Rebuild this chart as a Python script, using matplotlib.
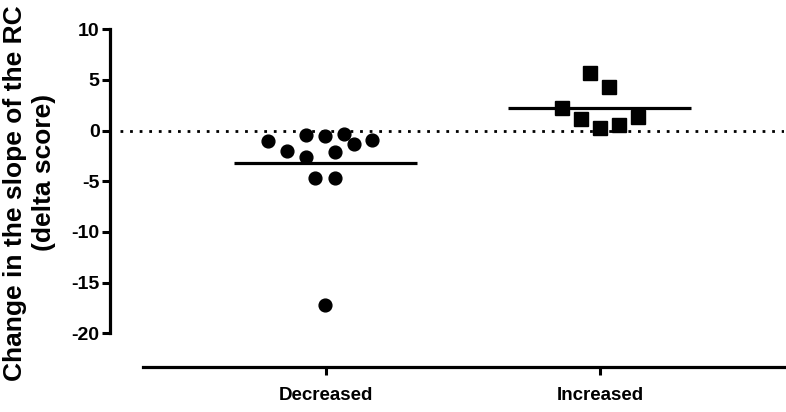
import matplotlib
matplotlib.use("Agg")
import matplotlib.pyplot as plt
import numpy as np

# data
categories = ["Decreased", "Increased"]
decreased_vals = [-1.0, -1.98, -0.43, -0.53, -0.37, -1.32, -0.93, -2.58, -2.14, -4.71, -4.71, -17.2]
decreased_jitter = [-0.21, -0.143, -0.073, -0.004, 0.066, 0.102, 0.170, -0.073, 0.033, -0.038, 0.033, -0.004]
increased_vals = [5.66, 4.27, 2.20, 1.12, 0.29, 0.55, 1.31]
increased_jitter = [-0.036, 0.034, -0.14, -0.07, 0.0, 0.069, 0.14]
y_ticks = [-20, -15, -10, -5, 0, 5, 10]
ylabel_lines = ["Change in the slope of the RC", "(delta score)"]

plt.rcParams["font.family"] = ["Liberation Sans", "DejaVu Sans"]
plt.rcParams["font.weight"] = "bold"
plt.rcParams["axes.unicode_minus"] = False

fig = plt.figure(figsize=(7.86, 4.12), dpi=100)
ax = fig.add_axes([0.1399, 0.1092, 0.8576, 0.8197])

# zero reference line
ax.axhline(0, xmin=0.015, xmax=1.0, color="black", lw=2.0,
           linestyle=(0, (1, 2.45)), zorder=1)

groups = [(decreased_vals, decreased_jitter, "o", 9.2),
          (increased_vals, increased_jitter, "s", 9.5)]
for i, (vals, jit, mk, ms) in enumerate(groups):
    xs = [i + j for j in jit]
    ax.plot(xs, vals, linestyle="none", marker=mk, ms=ms, color="black", zorder=3)
    ax.hlines(np.mean(vals), i - 0.334, i + 0.334, color="black", lw=2.3, zorder=2)

ax.set_xlim(-0.788, 1.672)
ax.set_ylim(-23.34, 10)

ax.spines["top"].set_visible(False)
ax.spines["right"].set_visible(False)
ax.spines["left"].set_linewidth(2.3)
ax.spines["bottom"].set_linewidth(2.3)
ax.spines["left"].set_bounds(-20, 10)
ax.spines["bottom"].set_bounds(-0.668, 1.672)

ax.set_yticks(y_ticks)
ax.set_yticklabels([str(t) for t in y_ticks])
ax.set_xticks(range(len(categories)))
ax.set_xticklabels(categories)
ax.tick_params(axis="y", length=5.5, width=2.2, labelsize=14, pad=2)
ax.tick_params(axis="x", length=5.5, width=2.2, labelsize=13.5, pad=9)

# two-line y label, each line placed on its own
fig.text(15 / 786, 1 - 193 / 412, ylabel_lines[0], rotation=90, fontsize=19,
         fontweight="bold", ha="center", va="center")
fig.text(44 / 786, 1 - 172 / 412, ylabel_lines[1], rotation=90, fontsize=19,
         fontweight="bold", ha="center", va="center")

fig.savefig("out.png", dpi=100)
